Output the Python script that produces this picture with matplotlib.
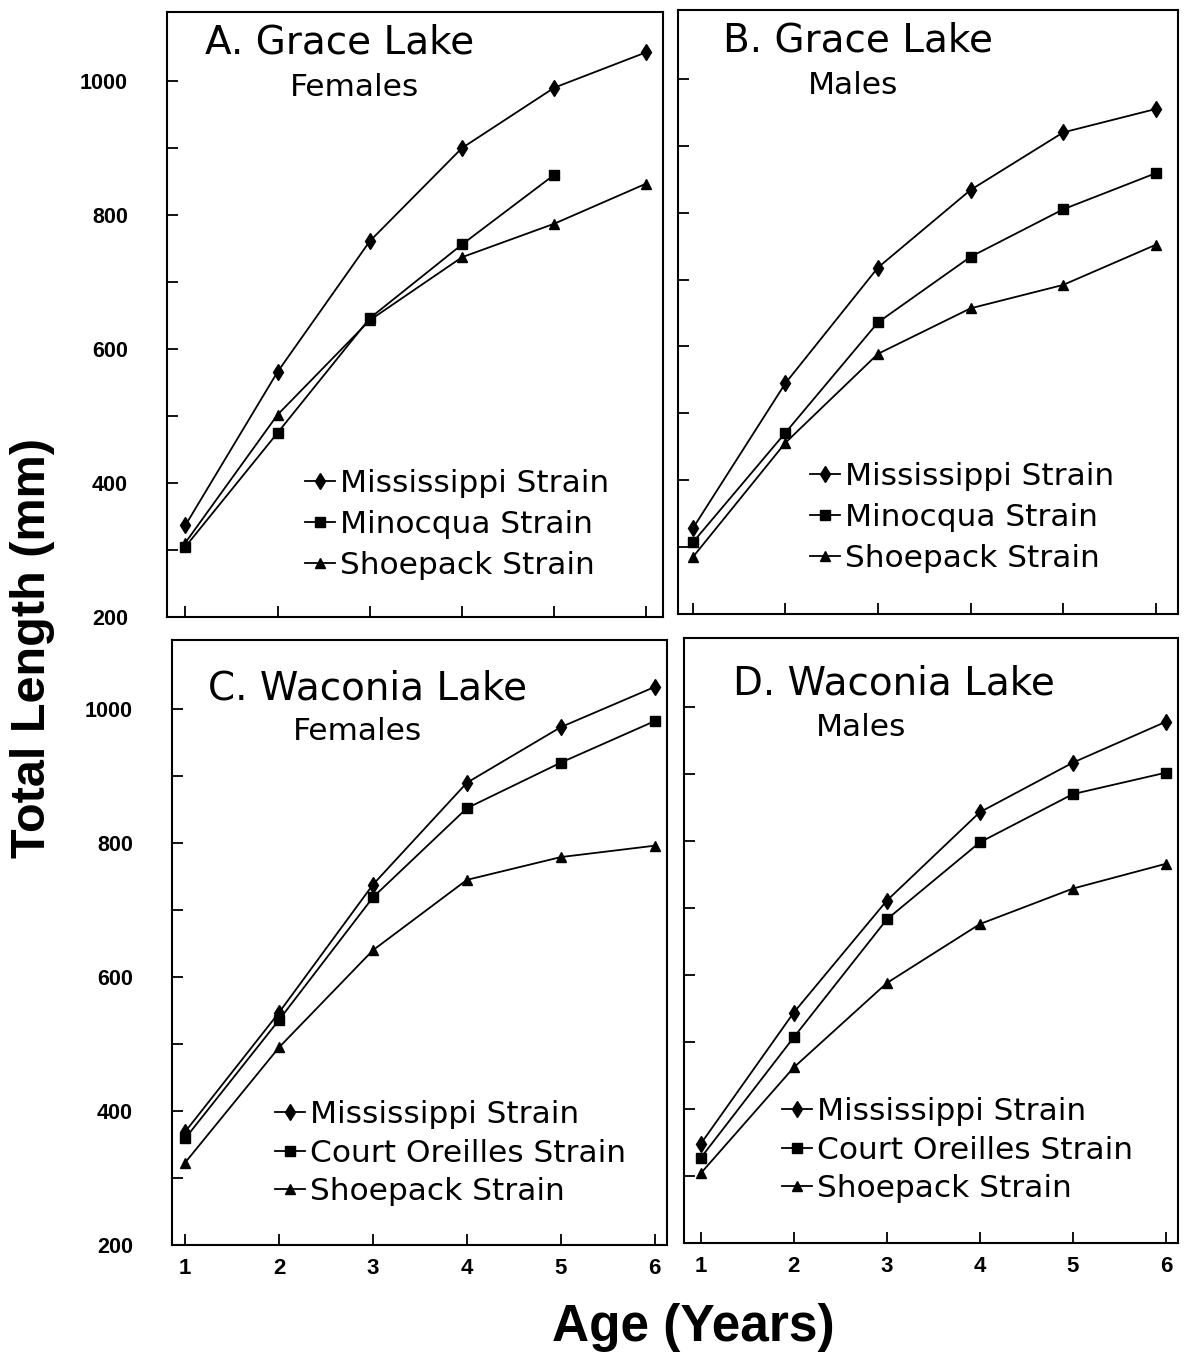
import matplotlib.pyplot as plt
from matplotlib.lines import Line2D

W, H = 1192, 1353

ages = [1, 2, 3, 4, 5, 6]
age_labels = ['1', '2', '3', '4', '5', '6']

# Grace Lake, females
grace_f_miss = [337, 566, 761, 900, 990, 1043]
grace_f_mino = [305, 475, 646, 756, 860]
grace_f_shoe = [311, 502, 643, 737, 787, 847]
# Grace Lake, males
grace_m_miss = [328, 545, 718, 834, 920, 955]
grace_m_mino = [307, 471, 636, 734, 805, 859]
grace_m_shoe = [285, 456, 589, 657, 692, 752]
# Waconia Lake, females
wac_f_miss = [369, 547, 738, 890, 973, 1033]
wac_f_co = [359, 536, 719, 852, 920, 982]
wac_f_shoe = [323, 495, 640, 745, 779, 796]
# Waconia Lake, males
wac_m_miss = [348, 544, 711, 843, 917, 978]
wac_m_co = [327, 507, 683, 798, 870, 902]
wac_m_shoe = [304, 462, 588, 676, 729, 766]

ytick_major = [200, 400, 600, 800, 1000]
ytick_minor = [300, 500, 700, 900]

grace_names = ['Mississippi Strain', 'Minocqua Strain', 'Shoepack Strain']
wac_names = ['Mississippi Strain', 'Court Oreilles Strain', 'Shoepack Strain']

panels = [
    # title, subtitle, series, names, rect px (l, t, r, b), xlim, title pos, sub pos, legend pos
    ('A. Grace Lake', 'Females', [grace_f_miss, grace_f_mino, grace_f_shoe], grace_names,
     (167, 12, 663, 617), (0.80, 6.18), (205, 42), (290, 87), (305, 469)),
    ('B. Grace Lake', 'Males', [grace_m_miss, grace_m_mino, grace_m_shoe], grace_names,
     (678, 10, 1178, 614), (0.84, 6.24), (723, 41), (808, 86), (810, 462)),
    ('C. Waconia Lake', 'Females', [wac_f_miss, wac_f_co, wac_f_shoe], wac_names,
     (172, 640, 667, 1245), (0.86, 6.13), (208, 689), (293, 732), (275, 1100)),
    ('D. Waconia Lake', 'Males', [wac_m_miss, wac_m_co, wac_m_shoe], wac_names,
     (684, 638, 1178, 1243), (0.82, 6.13), (733, 684), (816, 727), (782, 1097)),
]

markers = [('d', 8), ('s', 6.5), ('^', 7.5)]

fig = plt.figure(figsize=(W / 100, H / 100), dpi=100)
font = 'DejaVu Sans'
tickfont = 'Liberation Sans'

for i, (title, sub, series, names, rect, xlim, tpos, spos, lpos) in enumerate(panels):
    l, t, r, b = rect
    ax = fig.add_axes([l / W, 1 - b / H, (r - l) / W, (b - t) / H])
    for vals, (m, ms) in zip(series, markers):
        ax.plot(ages[:len(vals)], vals, color='black', lw=1.3, marker=m, ms=ms,
                mfc='black', mec='black')
    ax.set_xlim(*xlim)
    ax.set_ylim(200, 1103)
    ax.set_xticks(ages)
    ax.set_yticks(ytick_major)
    ax.set_yticks(ytick_minor, minor=True)
    ax.tick_params(which='both', direction='in', length=8, width=1.3,
                   top=False, right=False)
    ax.tick_params(axis='y', pad=28)
    ax.tick_params(axis='x', pad=9)
    if i in (0, 2):
        ax.set_yticklabels([str(v) for v in ytick_major], fontsize=15.5,
                           fontweight='bold', family=tickfont)
    else:
        ax.set_yticklabels([])
    if i in (2, 3):
        ax.set_xticklabels(age_labels, fontsize=16, fontweight='bold', family=tickfont)
    else:
        ax.set_xticklabels([])
    for s in ax.spines.values():
        s.set_linewidth(1.5)

    fig.text(tpos[0] / W, 1 - tpos[1] / H, title, fontsize=28, family=font,
             ha='left', va='center')
    fig.text(spos[0] / W, 1 - spos[1] / H, sub, fontsize=22.5, family=font,
             ha='left', va='center')

    handles = [Line2D([], [], color='black', lw=1.3, marker=m, ms=ms)
               for (m, ms) in markers]
    ax.legend(handles, names, loc='upper left',
              bbox_to_anchor=(lpos[0] / W, 1 - lpos[1] / H),
              bbox_transform=fig.transFigure, frameon=False, borderpad=0,
              borderaxespad=0, handlelength=0.96, handletextpad=0.16,
              labelspacing=0.39 if i < 2 else 0.31,
              prop={'family': font, 'size': 22.5})

fig.text(33 / W, 1 - 648 / H, 'Total Length (mm)', rotation=90, fontsize=35,
         fontweight='bold', family=tickfont, ha='center', va='center')
fig.text(693 / W, 1 - 1327 / H, 'Age (Years)', fontsize=37,
         fontweight='bold', family=tickfont, ha='center', va='center')

fig.savefig('out.png', dpi=100)
